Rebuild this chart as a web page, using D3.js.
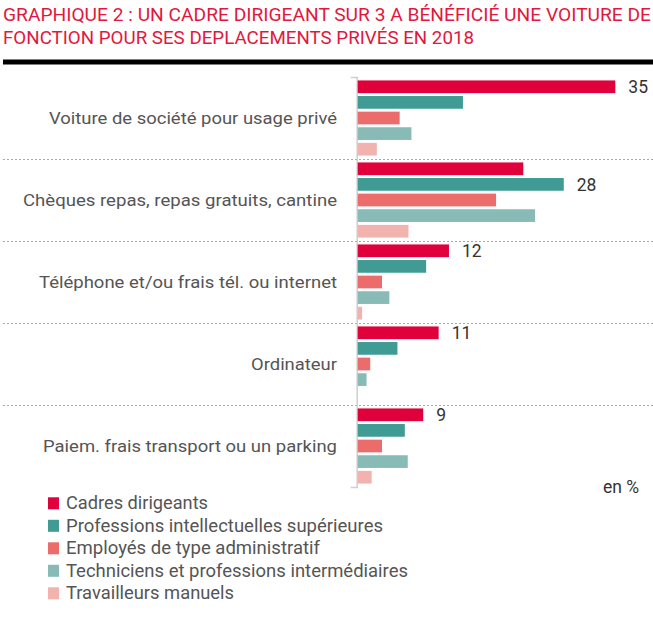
<!DOCTYPE html>
<html>
<head>
<meta charset="utf-8">
<script src="https://cdn.jsdelivr.net/npm/d3@7/dist/d3.min.js"></script>
<style>
  html, body { margin: 0; padding: 0; background: #fff; }
  svg { display: block; }
  text { font-family: Roboto, "Noto Sans", sans-serif; }
</style>
</head>
<body>
<svg id="chart" width="653" height="619"></svg>
<script>
// ---- Data ----
const titleLines = [
  "GRAPHIQUE 2 : UN CADRE DIRIGEANT SUR 3 A BÉNÉFICIÉ UNE VOITURE DE",
  "FONCTION POUR SES DEPLACEMENTS PRIVÉS EN 2018"
];
const categories = [
  "Voiture de société pour usage privé",
  "Chèques repas, repas gratuits, cantine",
  "Téléphone et/ou frais tél. ou internet",
  "Ordinateur",
  "Paiem. frais transport ou un parking"
];
const seriesNames = [
  "Cadres dirigeants",
  "Professions intellectuelles supérieures",
  "Employés de type administratif",
  "Techniciens et professions intermédiaires",
  "Travailleurs manuels"
];
const cadres      = [35, 22.5, 12.4, 11.0, 8.9];
const profInt     = [14.3, 28.0, 9.3, 5.4, 6.4];
const employes    = [5.7, 18.8, 3.3, 1.7, 3.3];
const techniciens = [7.3, 24.1, 4.3, 1.2, 6.8];
const manuels     = [2.6, 6.9, 0.6, 0, 1.9];
const unitLabel = "en %";

const seriesValues = [cadres, profInt, employes, techniciens, manuels];
const colors = ["#e0003b", "#3f9b93", "#ec6b6b", "#88bbb6", "#f2b3ae"];

// ---- Layout (text widths matched to the reference) ----
const titleWidths = [648, 471];
const catLabelWidths = [288, 314, 298, 86, 294];
const legendWidths = [142, 317, 254, 342, 168];

const svg = d3.select("#chart");
const x0 = 357.7, xMax = 615.3;
const yTop = 77, yBot = 487;

const x = d3.scaleLinear().domain([0, 35]).range([x0, xMax]);
const yGroup = d3.scaleBand().domain(d3.range(categories.length)).range([yTop, yBot]).paddingInner(0).paddingOuter(0);
const ySeries = d3.scaleBand().domain(d3.range(seriesNames.length)).range([0, yGroup.bandwidth()])
  .paddingInner(0.186).paddingOuter(0.22);

// Title
const titleG = svg.append("g");
titleLines.forEach((t, i) => {
  titleG.append("text")
    .attr("x", 3).attr("y", 20.5 + i * 23)
    .attr("fill", "#e2173d")
    .attr("font-size", 18.5)
    .attr("textLength", titleWidths[i])
    .attr("lengthAdjust", "spacingAndGlyphs")
    .text(t);
});
svg.append("rect").attr("x", 3).attr("y", 59.5).attr("width", 650).attr("height", 5).attr("fill", "#000");

// Dashed separators
const seps = d3.range(1, categories.length).map(i => yGroup(i));
svg.selectAll("line.sep").data(seps).join("line")
  .attr("class", "sep")
  .attr("x1", 3).attr("x2", 653)
  .attr("y1", d => d + 0.5).attr("y2", d => d + 0.5)
  .attr("stroke", "#a8a8a8").attr("stroke-width", 1)
  .attr("stroke-dasharray", "2,2");

// Axis
const axis = d3.axisLeft(d3.scaleLinear().domain([0, 1]).range([yTop, yBot]))
  .ticks(0).tickSizeOuter(6);
const axG = svg.append("g").attr("transform", `translate(${x0 - 1},0)`).call(axis);
axG.select(".domain").attr("stroke", "#cfcfcf").attr("stroke-width", 1.5);

// Bars
const groups = svg.selectAll("g.grp").data(categories).join("g")
  .attr("class", "grp")
  .attr("transform", (d, i) => `translate(0,${yGroup(i)})`);

groups.each(function(cat, gi) {
  const g = d3.select(this);
  const vals = seriesValues.map(s => s[gi]);
  g.selectAll("rect").data(vals).join("rect")
    .attr("x", x(0))
    .attr("y", (d, si) => ySeries(si))
    .attr("width", d => Math.max(0, x(d) - x(0)))
    .attr("height", ySeries.bandwidth())
    .attr("fill", (d, si) => colors[si])
    .attr("display", d => d > 0 ? null : "none");
  // value label on the largest bar
  const mi = d3.maxIndex(vals);
  g.append("text")
    .attr("x", x(vals[mi]) + 13)
    .attr("y", ySeries(mi) + ySeries.bandwidth() / 2)
    .attr("dy", "0.35em")
    .attr("font-size", 17.5)
    .attr("fill", "#333")
    .text(Math.round(vals[mi]));
  // category label
  g.append("text")
    .attr("x", 337)
    .attr("y", yGroup.bandwidth() / 2)
    .attr("dy", "0.35em")
    .attr("text-anchor", "end")
    .attr("font-size", 17)
    .attr("fill", "#555")
    .attr("textLength", catLabelWidths[gi])
    .attr("lengthAdjust", "spacingAndGlyphs")
    .text(cat);
});

// Unit
svg.append("text")
  .attr("x", 639).attr("y", 487).attr("dy", "0.35em")
  .attr("text-anchor", "end")
  .attr("font-size", 17.5).attr("fill", "#333")
  .text(unitLabel);

// Legend
const leg = svg.selectAll("g.leg").data(seriesNames).join("g")
  .attr("class", "leg")
  .attr("transform", (d, i) => `translate(48,${503.3 + i * 22.5})`);
leg.append("rect").attr("x", 0).attr("y", -6).attr("width", 11).attr("height", 12)
  .attr("fill", (d, i) => colors[i]);
leg.append("text").attr("x", 18).attr("y", 0).attr("dy", "0.35em")
  .attr("font-size", 17.5).attr("fill", "#555")
  .attr("textLength", (d, i) => legendWidths[i])
  .attr("lengthAdjust", "spacingAndGlyphs")
  .text(d => d);
</script>
</body>
</html>
